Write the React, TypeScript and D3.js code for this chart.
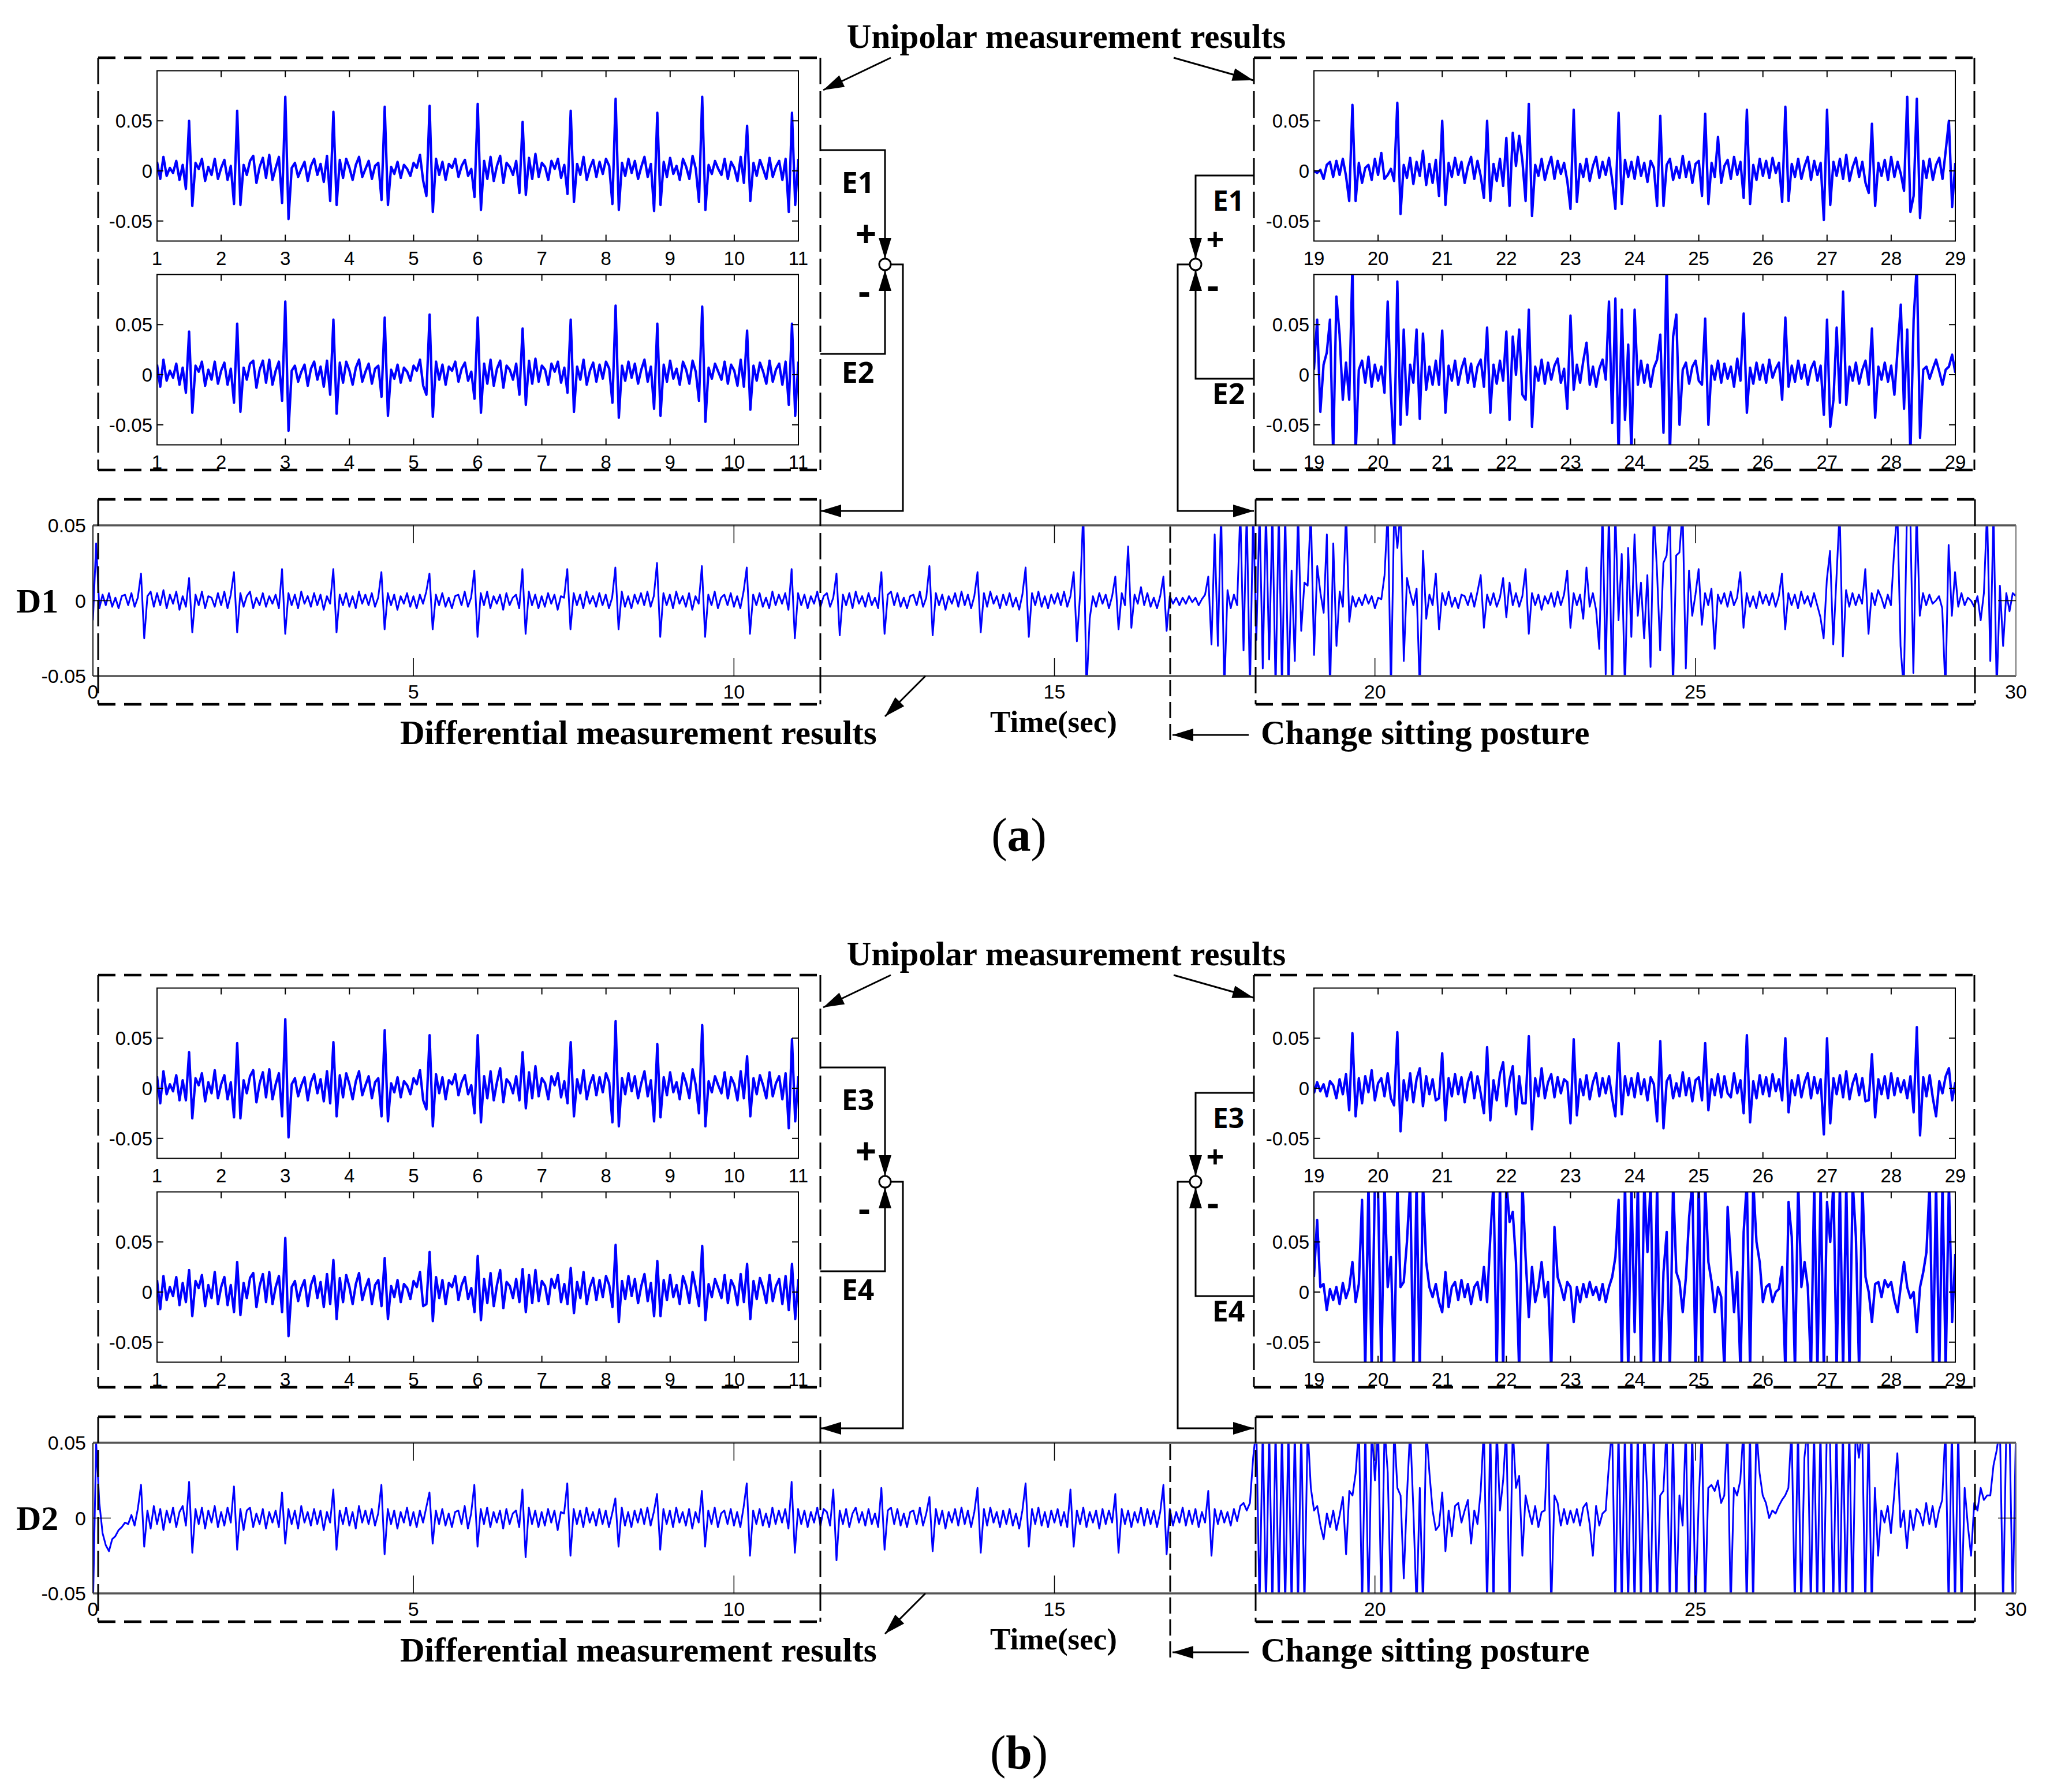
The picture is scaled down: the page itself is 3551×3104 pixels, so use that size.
import React from "react";
import * as d3 from "d3";

// All signal values are in units of 0.001, one sample every 0.05 s

// (a) unipolar, left window 1..11 s
const aLeftE1 = [
  9,-8,14,-5,3,-2,10,-9,6,-18, 50,-35,8,2,12,-10,4,-4,12,-8,
  3,11,-9,5,-33, 60,-34,6,-4,10, 15,-12,4,13,-7, 16,-9,3,14,-32,
  74,-48,3,8,-6, 2,9,-10,5,12, -4,7,-11,15,-30, 59,-34,11,-7,12,
  3,-9,6,14,-6, 2,10,-8,5,8, -29,64,-34,4,-3, 9,-7,6,2,-5,
  8,3,16,-10,-25, 65,-41,12,-4,9, -9,7,3,12,-6, 5,11,-5,2,-26,
  67,-39,10,-8,14, -10,5,15,-12,8, 4,-4,10,-22,49, -24,13,-8,17,-6,
  8,4,-9,10,2, 12,-7,6,-23,60, -31,7,-4,14,-9, 3,11,-6,9,-3,
  12,5,-33,72,-39, 8,-5,12,-2,10, -8,4,14,-6,7, -40,58,-34,9,-6,
  13,-3,5,-9,12, 4,-8,15,2,-31, 74,-39,6,-3,10, 2,-4,12,-8,9,
  3,-10,14,-12,45, -30,8,-5,11,2, -8,13,-6,4,10, -9,12,-41,58,-34,
  12,
];
const aLeftE2 = [
  10,-12,15,-6,4,-3,11,-10,7,-18, 43,-38,9,3,13,-11,5,-5,13,-9,
  4,12,-10,6,-28, 51,-37,7,-5,11, 14,-13,5,14,-8, 15,-10,4,13,-26,
  73,-56,4,9,-7, 3,10,-11,6,13, -5,8,-12,14,-20, 55,-39,12,-8,13,
  4,-10,7,15,-7, 3,11,-9,6,9, -22,57,-41,5,-4, 10,-8,7,3,-6,
  9,4,15,-11,-20, 60,-42,13,-5,10, -10,8,4,13,-7, 6,12,-6,3,-24,
  57,-38,11,-9,15, -11,6,14,-13,9, 5,-5,11,-20,46, -30,14,-9,16,-7,
  9,5,-10,11,3, 13,-8,7,-18,55, -37,8,-5,15,-10, 4,12,-7,10,-4,
  13,6,-28,69,-43, 9,-6,13,-3,11, -9,5,15,-7,8, -34,51,-41,10,-7,
  14,-4,6,-10,13, 5,-9,14,3,-26, 68,-47,7,-4,11, 3,-5,13,-9,10,
  4,-11,15,-12,44, -35,9,-6,12,3, -9,14,-7,5,11, -10,13,-30,51,-41,
  13,
];
// (a) unipolar, right window 19..29 s
const aRightE1 = [
  0,-2,1,-8,6,9,-6,10,-4,12, -5,-30,66,-30,8,-12,3,6,-9,12,
  -4,18,-8,-4,2,-10,68,-43,6,-7, 13,-13,9,-5,20,-14,7,-12,11,-25,
  50,-34,8,-6,13,-4,9,-12,4,14, -8,10,-5,-27,50,-30,7,-10,12,-15,
  33,-35,38,5,35,10,-30,67,-45,6, -5,12,-9,4,14,-8,10,-3,8,-10,
  -38,61,-31,7,-6,12,-10,5,14,-7, 9,-4,13,-9,-38,58,-33,11,-6,9,
  -8,14,-5,8,-11,10,3,-35,55,-35, 6,12,-9,4,-7,15,-6,9,-12,7,
  10,-25,57,-33,8,-6,34,-12,5,11, -8,14,-4,9,-27,61,-33,6,-9,12,
  -5,10,-7,13,-2,8,-31,64,-30,7, -6,12,-8,5,14,-9,10,-4,8,-49,
  61,-34,9,-5,12,-8,16,-10,4,13, -6,9,-12,-22,47,-35,8,-5,11,-9,
  14,-6,9,-3,-20,74,-41,-25,72,-47, 10,-7,12,-9,6,13,-8,20,50,-36,
  8,
];
const aRightE2 = [
  5,55,-37,10,22,55,-80,78,40,-25, 12,-25,110,-80,5,14,-8,18,-12,10,
  -6,8,-18,73,-20,-80,93,-50,45,-40, 10,-8,45,-44,41,-15,8,-10,14,-10,
  44,-38,9,-6,14,-10,6,16,-8,11, -12,8,15,-12,47,-38,10,-9,14,-6,
  43,-45,38,0,45,-20,-25,65,-52,8, -6,15,-9,12,-5,9,16,-8,6,-34,
  59,-15,10,-8,14,32,-10,8,-12,6, 15,-5,73,-48,76,-80,65,-45,30,-80,
  65,-10,14,-8,10,-12,7,15,40,-58, 115,-80,38,60,-50,5,12,-9,8,14,
  -6,-10,56,-50,9,-5,14,-8,11,-4, 8,-12,16,-6,61,-38,7,-9,12,-5,
  10,-8,15,-3,6,12,-25,57,-12,9, -7,14,-4,10,-10,6,13,-6,9,-40,
  55,-52,-25,47,-28,83,-30,8,-6,12, -9,5,14,-10,46,-43,8,-5,12,-7,
  9,-20,25,70,-34,45,-80,55,110,-63, 5,8,-4,6,15,3,-10,5,8,20,
  2,
];
// (b) unipolar, left window 1..11 s
const bLeftE3 = [
  12,-15,17,-6,4,-3,13,-12,8,-12, 36,-30,10,3,15,-13,6,-5,18,-10,
  4,13,-11,6,-29, 45,-30,8,-5,12, 18,-14,5,16,-9, 19,-11,4,15,-28,
  69,-49,4,10,-8, 3,11,-12,6,14, -5,9,-13,17,-15, 46,-28,13,-9,15,
  4,-11,7,17,-7, 3,12,-10,6,10, -28,58,-33,5,-4, 11,-9,7,3,-6,
  10,4,18,-12,-21, 53,-38,14,-5,11, -11,8,4,14,-7, 6,13,-6,3,-25,
  53,-34,12,-10,17, -12,6,20,-14,9, 5,-5,12,-12,36, -20,16,-10,22,-8,
  10,5,-11,12,3, 15,-9,7,-15,46, -28,9,-5,18,-11, 4,13,-7,11,-4,
  15,6,-34,67,-38, 10,-6,15,-3,12, -10,5,17,-8,8, -33,44,-29,11,-7,
  16,-4,6,-11,15, 5,-10,19,3,-25, 63,-38,7,-4,12, 3,-5,16,-10,11,
  4,-12,17,-10,32, -28,10,-6,13,3, -10,16,-8,5,12, -11,15,-40,49,-33,
  12,
];
const bLeftE4 = [
  12,-17,16,-8,5,-4,15,-13,9,-10, 22,-24,11,4,17,-14,7,-6,20,-12,
  5,15,-13,7,-20, 30,-23,9,-6,14, 19,-15,6,18,-10, 20,-12,5,16,-20,
  54,-44,5,11,-9, 4,12,-14,7,16, -6,10,-15,18,-12, 32,-27,14,-10,17,
  5,-12,8,19,-8, 4,13,-12,7,12, -14,34,-27,6,-5, 12,-10,8,4,-7,
  11,5,20,-14,-12, 40,-29,15,-6,12, -12,9,5,16,-8, 7,15,-7,4,-20,
  36,-28,13,-11,19, -14,7,22,-16,10, 6,-6,13,-10,23, -20,17,-11,22,-9,
  11,6,-12,13,4, 17,-10,8,-12,24, -21,10,-6,20,-12, 5,14,-8,12,-5,
  16,7,-15,47,-30, 11,-7,16,-4,13, -11,6,18,-9,9, -24,31,-24,12,-8,
  17,-5,7,-12,16, 6,-11,20,4,-14, 46,-28,8,-5,13, 4,-6,17,-11,12,
  5,-13,18,-10,28, -27,11,-7,14,4, -11,17,-9,6,13, -12,16,-18,28,-27,
  13,
];
// (b) unipolar, right window 19..29 s
const bRightE3 = [
  -5,6,-3,4,-8,7,3,-10,9,-6, 14,-22,55,-28,10,-15,12,-4,18,-12,
  5,10,-8,15,-10,-17,56,-43,8,-12, 15,-14,9,20,-18,12,-6,9,-12,-10,
  35,-32,10,-8,14,-6,11,-14,6,16, -10,12,-5,-25,41,-32,8,-12,14,26,
  -18,8,22,-26,12,-15,-15,52,-41,10, -8,20,-10,6,14,-9,11,-5,9,6,
  -35,49,-27,9,-7,13,-11,6,15,-8, 10,-5,12,-10,-28,45,-26,12,-7,10,
  -9,15,-6,9,-12,11,4,-33,47,-40, 7,13,-10,5,-8,16,-7,10,-13,8,
  11,-12,45,-22,9,-7,14,-9,12,-5, -9,15,-5,8,-25,53,-34,7,-10,13,
  -6,11,-8,14,-3,9,-12,50,-24,8, -7,13,-9,6,15,-10,11,-5,9,-46,
  50,-35,10,-6,13,-9,17,-11,5,14, -7,10,-13,-12,34,-29,9,-6,12,-10,
  15,-7,10,-4,8,-10,12,-24,61,-47, 11,-8,13,-10,-28,7,-5,12,20,-12,
  6,
];
const bRightE4 = [
  15,72,5,8,-18,3,-8,5,-12,9, -6,4,30,-10,8,92,-80,110,-80,110,
  100,-80,110,5,35,-80,110,5,10,50, 110,-80,110,-80,110,30,5,-5,8,-10,
  -20,20,-15,5,10,-8,12,-5,8,-12, 5,10,-8,25,-10,55,110,-80,110,-80,
  110,70,80,30,-80,110,35,-25,25,-10, 5,30,-5,10,-80,65,15,5,-8,10,
  5,-30,5,-10,8,-5,10,-3,5,-8, 8,-10,5,15,35,92,-80,110,-80,110,
  -40,110,-80,110,40,110,-80,110,-80,20, 60,-80,110,20,10,-20,15,75,110,-80,
  110,-80,110,30,10,-20,5,-5,-80,85, 30,-20,20,-80,60,110,-80,110,50,30,
  -10,5,8,-10,0,3,25,-80,90,55, -80,110,5,30,5,-80,110,-80,110,-80,
  90,50,110,-80,110,-80,110,-80,110,55, -80,110,15,0,-30,8,10,-5,12,5,
  10,-8,-20,6,30,5,-6,0,-40,5, 20,40,110,-80,110,-80,110,-80,110,-30,
  38,
];

// differential traces 0..30 s
const d1Values = [
  -13,38,-5,4,-3,5,-4,2,-5,3, 4,-3,5,-4,2,18,-25,3,6,-4,
  5,-3,7,-5,4,-2,6,-6,3,-4, 15,-21,4,-3,6,-5,3,2,-4,5,
  -3,6,-5,4,19,-21,5,-4,3,6, -5,2,-3,5,-4,3,-2,4,-5,21,
  -22,5,-3,4,-5,6,-2,3,-4,5, -3,4,-6,3,-2,21,-21,4,-3,5,
  -4,3,-5,6,-2,4,-3,5,-4,2, 19,-19,5,-3,4,-6,3,-2,5,-4,
  3,-5,4,-2,6,18,-19,4,-3,5, -4,2,-5,3,4,-3,6,-4,2,20,
  -24,5,-3,6,-5,3,-2,4,-6,5, -3,2,4,-5,21,-22,6,-3,4,-5,
  3,-4,5,-2,4,-6,3,2,21,-19, 5,-3,4,-5,6,-2,3,-4,5,-3,
  4,-5,2,22,-19,6,-4,3,-5,4, -2,5,-3,6,-4,3,25,-24,5,-3,
  4,-5,6,-2,3,-4,5,-6,3,-2, 23,-24,4,-3,6,-5,2,4,-3,5,
  -4,3,-5,6,22,-22,4,-3,5,-4, 2,-5,6,-3,4,-2,5,-6,21,-25,
  5,-3,4,-5,3,-2,6,-4,3,5, -4,2,18,-23,4,-3,5,-5,6,-2,
  3,-4,5,-3,2,-5,19,-22,4,6, -3,5,-4,2,-5,3,4,-3,6,-4,
  2,23,-23,5,-3,4,-6,3,-2,5, -4,6,-3,4,-5,3,19,-21,5,-4,
  6,-2,3,-5,4,-3,5,-4,2,-6, 4,22,-24,5,-3,6,-4,3,-5,4,
  -2,5,-3,6,-4,3,19,-27,4,60, -60,-12,3,-4,5,-2,4,-5,3,16,
  -19,5,-3,36,-18,4,-2,9,-3,5, -4,2,-5,3,16,-20,3,-2,2,-3,
  2,-2,3,-1,2,-3,1,4,16,-29, 44,-30,60,-60,7,-5,4,-3,60,-33,
  60,-60,60,-26,60,-45,60,-39,60,-60, 60,-60,60,-60,20,-40,60,-20,12,10,
  60,-36,23,5,-8,44,-60,38,-30,6, -4,60,-14,3,-4,2,-3,4,-2,3,
  -5,2,1,17,60,-60,60,35,60,-40, 15,5,-3,8,-60,33,-12,4,-3,18,
  -19,5,-3,6,-4,2,-5,4,3,-3, 5,-4,6,17,-18,4,-3,5,-4,2,
  15,-11,12,-3,5,-4,3,21,-22,5, -3,4,-6,3,-2,5,-4,6,-3,4,
  20,-18,5,-3,4,-12,22,-4,5,-6, -32,60,-49,60,-60,60,-13,31,-60,35,
  -24,44,-10,12,-25,17,-44,60,20,-33, 25,30,60,-60,30,32,60,-45,20,-10,
  4,21,-16,5,-3,8,-32,4,-2,5, -4,6,-3,2,19,-18,5,-4,3,-5,
  6,-2,4,-3,5,-4,3,18,-19,5, -3,4,-5,6,-2,3,-4,5,-3,-11,
  -25,14,33,-29,15,60,-37,7,-4,5, -3,4,-2,21,-22,5,-3,7,2,-5,
  4,-3,33,60,-30,-60,60,60,-48,60, -10,5,-3,4,-2,0,3,-5,-60,37,
  -10,19,-4,5,-3,2,0,-4,3,-13, 5,60,-40,60,-60,10,-30,5,-7,5,
  3,
];
const d2Values = [
  -60,50,10,-10,-18,-22,-14,-12,-8,-6, -3,-4,2,-5,6,22,-19,5,-7,8,
  -4,6,-8,5,-3,7,-6,4,8,-5, 24,-23,6,-4,7,-7,5,-3,8,-6,
  4,-5,7,-3,21,-21,6,-8,5,7, -6,3,-4,6,-7,4,-3,5,-6,17,
  -17,6,-4,5,-7,8,-3,4,-5,6, -4,5,-8,4,-3,19,-21,5,-4,7,
  -5,4,-7,8,-3,5,-4,6,-5,3, 22,-24,6,-4,5,-7,4,-3,7,-5,
  4,-6,5,-3,7,17,-17,5,-4,6, -5,3,-6,4,5,-4,8,-7,3,22,
  -19,6,-4,7,-6,4,-3,5,-7,6, -4,3,5,-6,19,-26,7,-4,5,-6,
  4,-5,6,-3,5,-8,4,3,23,-25, 6,-4,5,-6,7,-3,4,-5,6,-4,
  5,-6,3,13,-19,7,-5,4,-6,5, -3,6,-4,7,-5,4,16,-21,6,-4,
  5,-6,7,-3,4,-5,6,-7,4,-3, 18,-19,5,-4,7,-6,3,5,-4,6,
  -5,4,-6,7,23,-25,5,-4,6,-5, 3,-6,7,-4,5,-3,6,-7,24,-23,
  6,-4,5,-6,4,-3,7,-5,6,4, -5,19,-28,5,-4,6,-6,3,7,-3,
  4,-5,6,-4,3,-6,20,-21,5,7, -4,6,-5,3,-6,4,5,-4,7,-5,
  3,14,-22,6,-4,5,-7,4,-3,6, -5,7,-4,5,-6,4,20,-23,6,-5,
  7,-3,4,-6,5,-4,6,-5,3,-7, 5,23,-19,6,-4,7,-5,4,-6,5,
  -3,6,-5,4,-6,19,-19,5,-4,7, -6,4,-3,5,-7,6,-4,5,-3,16,
  -23,6,-4,5,-6,4,-3,7,-5,6, -4,5,-6,4,22,-24,6,-5,4,-3,
  7,-5,5,-4,6,-6,4,-3,18,-25, 6,-4,5,-3,4,-5,6,-2,8,10,
  5,10,40,60,-60,60,-60,60,-60,60, -60,60,-60,60,-60,60,-60,60,-60,60,
  20,5,8,-5,-14,3,-6,5,-8,2, 14,-24,18,15,30,60,-60,60,-60,60,
  25,60,-60,60,30,-60,60,20,15,-40, 15,60,5,-60,20,-60,60,30,5,-8,
  -5,17,-22,5,-12,8,10,-3,5,12, -17,5,-4,18,60,-60,60,-60,60,5,
  25,60,-60,60,20,28,-25,15,5,-4, 8,-6,4,5,60,-60,15,10,-5,6,
  -4,5,-3,6,-5,7,10,-4,-25,8, -5,3,5,35,60,-60,60,-60,60,-60,
  60,-60,60,-60,60,15,-60,60,-60,15, 18,60,-60,60,-60,15,-5,60,-60,60,
  -60,10,60,-60,20,22,18,25,10,15, 60,-60,20,15,25,60,-60,60,-60,60,
  30,15,10,0,5,3,8,12,15,20, 60,-60,60,-60,40,60,-60,60,-60,60,
  -60,60,50,-60,60,-60,60,-60,60,-60, 60,40,60,-60,60,-60,20,-25,5,-3,
  8,-10,15,43,-6,5,-20,5,-8,6, 3,-5,10,-4,8,-6,5,12,60,-60,
  60,-60,60,-60,20,-5,-25,10,5,20, 12,15,15,35,45,60,-60,60,60,-60,
  60,
];

const leftWindow = [1, 11];
const rightWindow = [19, 29];
const insetXTicksLeft = d3.range(1, 12);
const insetXTicksRight = d3.range(19, 30);
const insetYTicks = [-0.05, 0, 0.05];
const insetYDomain = [-0.07, 0.1];
const stripXDomain = [0, 30];
const stripXTicks = [0, 5, 10, 15, 20, 25, 30];
const stripYTicks = [-0.05, 0, 0.05];
const stripYDomain = [-0.05, 0.05];

const SERIF = '"Liberation Serif", "Times New Roman", serif';
const SANS = '"Liberation Sans", Arial, sans-serif';
const BOLD_SANS = '"Open Sans", "Liberation Sans", sans-serif';
const BLUE = "#0000ff";

const fmt = (v: number) => (v === 0 ? "0" : v.toFixed(2));

function Trace({ id, left, top, width, height, xDomain, yDomain, values, lw }: any) {
  const x = d3.scaleLinear().domain(xDomain).range([left, left + width]);
  const y = d3.scaleLinear().domain(yDomain).range([top + height, top]);
  const n = values.length;
  const step = (xDomain[1] - xDomain[0]) / (n - 1);
  const line = d3
    .line<number>()
    .x((_, i) => x(xDomain[0] + i * step))
    .y((v) => y(v / 1000));
  return (
    <g>
      <clipPath id={id}>
        <rect x={left} y={top} width={width} height={height} />
      </clipPath>
      <path d={line(values) || ""} fill="none" stroke={BLUE} strokeWidth={lw} strokeLinejoin="round" clipPath={`url(#${id})`} />
    </g>
  );
}

function Inset({ id, left, top, xDomain, xTicks, values }: any) {
  const width = 1111;
  const height = 295;
  const x = d3.scaleLinear().domain(xDomain).range([left, left + width]);
  const y = d3.scaleLinear().domain(insetYDomain).range([top + height, top]);
  const tl = 11;
  return (
    <g>
      <rect x={left} y={top} width={width} height={height} fill="#fff" />
      <Trace id={id} left={left} top={top} width={width} height={height} xDomain={xDomain} yDomain={insetYDomain} values={values} lw={4.2} />
      <rect x={left} y={top} width={width} height={height} fill="none" stroke="#000" strokeWidth={2} />
      <g stroke="#000" strokeWidth={2}>
        {xTicks.map((t: number) => (
          <g key={t}>
            <line x1={x(t)} x2={x(t)} y1={top + height} y2={top + height - tl} />
            <line x1={x(t)} x2={x(t)} y1={top} y2={top + tl} />
          </g>
        ))}
        {insetYTicks.map((t) => (
          <g key={t}>
            <line x1={left} x2={left + tl} y1={y(t)} y2={y(t)} />
            <line x1={left + width} x2={left + width - tl} y1={y(t)} y2={y(t)} />
          </g>
        ))}
      </g>
      <g fontFamily={SANS} fontSize={33} fill="#000">
        {xTicks.map((t: number) => (
          <text key={t} x={x(t)} y={top + height + 41} textAnchor="middle">{t}</text>
        ))}
        {insetYTicks.map((t) => (
          <text key={t} x={left - 8} y={y(t) + 12} textAnchor="end">{fmt(t)}</text>
        ))}
      </g>
    </g>
  );
}

function Strip({ id, top, values, label }: any) {
  const left = 161;
  const width = 3331;
  const height = 261;
  const x = d3.scaleLinear().domain(stripXDomain).range([left, left + width]);
  const y = d3.scaleLinear().domain(stripYDomain).range([top + height, top]);
  const tl = 31;
  return (
    <g>
      <Trace id={id} left={left} top={top} width={width} height={height} xDomain={stripXDomain} yDomain={stripYDomain} values={values} lw={3} />
      <line x1={left} x2={left + width} y1={top} y2={top} stroke="#555" strokeWidth={3.5} />
      <line x1={left} x2={left + width} y1={top + height} y2={top + height} stroke="#555" strokeWidth={3.5} />
      <line x1={left} x2={left} y1={top} y2={top + height} stroke="#222" strokeWidth={2} />
      <line x1={left + width} x2={left + width} y1={top} y2={top + height} stroke="#777" strokeWidth={2} />
      <g stroke="#000" strokeWidth={1.5}>
        {stripXTicks.slice(1, -1).map((t) => (
          <g key={t}>
            <line x1={x(t)} x2={x(t)} y1={top + height} y2={top + height - tl} />
            <line x1={x(t)} x2={x(t)} y1={top} y2={top + tl} />
          </g>
        ))}
        <line x1={left} x2={left + tl} y1={y(0)} y2={y(0)} />
        <line x1={left + width} x2={left + width - tl} y1={y(0)} y2={y(0)} />
      </g>
      <g fontFamily={SANS} fontSize={34} fill="#000">
        {stripXTicks.map((t) => (
          <text key={t} x={x(t)} y={top + height + 39} textAnchor="middle">{t}</text>
        ))}
        {stripYTicks.map((t) => (
          <text key={t} x={left - 12} y={y(t) + 12} textAnchor="end">{fmt(t)}</text>
        ))}
      </g>
      <text x={28} y={y(0) + 20} fontFamily={SERIF} fontWeight="bold" fontSize={60}>{label}</text>
    </g>
  );
}

function head(tx: number, ty: number, fx: number, fy: number, len = 36, hw = 11) {
  const a = Math.atan2(ty - fy, tx - fx);
  const bx = tx - len * Math.cos(a);
  const by = ty - len * Math.sin(a);
  const px = -Math.sin(a) * hw;
  const py = Math.cos(a) * hw;
  return `${tx},${ty} ${bx + px},${by + py} ${bx - px},${by - py}`;
}

function Arrow({ pts }: { pts: number[][] }) {
  const d = "M" + pts.map((p) => p.join(",")).join("L");
  const n = pts.length;
  const [tx, ty] = pts[n - 1];
  const [fx, fy] = pts[n - 2];
  return (
    <g>
      <path d={d} fill="none" stroke="#000" strokeWidth={3} />
      <polygon points={head(tx, ty, fx, fy)} fill="#000" />
    </g>
  );
}

function DashedBox({ x1, y1, x2, y2 }: any) {
  return (
    <g stroke="#000" fill="none">
      <line x1={x1} y1={y1} x2={x2} y2={y1} strokeWidth={4.5} strokeDasharray="30 15" />
      <line x1={x1} y1={y2} x2={x2} y2={y2} strokeWidth={4.5} strokeDasharray="30 15" />
      <line x1={x1} y1={y1} x2={x1} y2={y2} strokeWidth={3} strokeDasharray="46 12" />
      <line x1={x2} y1={y1} x2={x2} y2={y2} strokeWidth={3} strokeDasharray="46 12" />
    </g>
  );
}

function Panel({ oy, tag, e, dLabel, data }: any) {
  return (
    <g transform={`translate(0,${oy})`}>
      <text x={1847} y={83} textAnchor="middle" fontFamily={SERIF} fontWeight="bold" fontSize={59}>Unipolar measurement results</text>
      <Arrow pts={[[1543, 100], [1426, 156]]} />
      <Arrow pts={[[2033, 100], [2171, 139]]} />

      <DashedBox x1={170} y1={100} x2={1421} y2={814} />
      <DashedBox x1={2172} y1={100} x2={3420} y2={814} />

      <Inset id={`${tag}-l1`} left={272} top={122.5} xDomain={leftWindow} xTicks={insetXTicksLeft} values={data[0]} />
      <Inset id={`${tag}-l2`} left={272} top={475.5} xDomain={leftWindow} xTicks={insetXTicksLeft} values={data[1]} />
      <Inset id={`${tag}-r1`} left={2276} top={122.5} xDomain={rightWindow} xTicks={insetXTicksRight} values={data[2]} />
      <Inset id={`${tag}-r2`} left={2276} top={475.5} xDomain={rightWindow} xTicks={insetXTicksRight} values={data[3]} />

      {/* left summing junction */}
      <Arrow pts={[[1421, 260], [1533, 260], [1533, 448]]} />
      <Arrow pts={[[1421, 613], [1533, 613], [1533, 468]]} />
      <Arrow pts={[[1543, 458], [1564, 458], [1564, 885], [1421, 885]]} />
      <circle cx={1533} cy={458} r={10} fill="#fff" stroke="#000" strokeWidth={3} />
      {/* right summing junction */}
      <Arrow pts={[[2172, 304], [2071, 304], [2071, 448]]} />
      <Arrow pts={[[2172, 656], [2071, 656], [2071, 468]]} />
      <Arrow pts={[[2061, 458], [2040, 458], [2040, 885], [2172, 885]]} />
      <circle cx={2071} cy={458} r={10} fill="#fff" stroke="#000" strokeWidth={3} />

      <g fontFamily={BOLD_SANS} fontWeight="bold" fill="#000">
        <text x={1486} y={334} fontSize={50} textAnchor="middle">{e[0]}</text>
        <text x={1486} y={663} fontSize={50} textAnchor="middle">{e[1]}</text>
        <text x={1500} y={428} fontSize={64} textAnchor="middle">+</text>
        <text x={1497} y={527} fontSize={64} textAnchor="middle">-</text>
        <text x={2128} y={365} fontSize={48} textAnchor="middle">{e[0]}</text>
        <text x={2128} y={700} fontSize={50} textAnchor="middle">{e[1]}</text>
        <text x={2105} y={434} fontSize={54} textAnchor="middle">+</text>
        <text x={2101} y={517} fontSize={64} textAnchor="middle">-</text>
      </g>

      <Strip id={`${tag}-d`} top={910} values={data[4]} label={dLabel} />
      <DashedBox x1={170} y1={865} x2={1421} y2={1220} />
      <DashedBox x1={2175} y1={865} x2={3421} y2={1220} />
      <line x1={2027} y1={912} x2={2027} y2={1292} stroke="#000" strokeWidth={3} strokeDasharray="28 10" />

      <g fontFamily={SERIF} fontWeight="bold" fill="#000">
        <text x={693} y={1289} fontSize={59}>Differential measurement results</text>
        <text x={1825} y={1268} fontSize={53} textAnchor="middle">Time(sec)</text>
        <text x={2184} y={1289} fontSize={59}>Change sitting posture</text>
      </g>
      <Arrow pts={[[1603, 1171], [1533, 1241]]} />
      <Arrow pts={[[2163, 1273], [2031, 1273]]} />

      <text x={1765} y={1474} textAnchor="middle" fontFamily={SERIF} fontSize={82}>
        (<tspan fontWeight="bold">{tag}</tspan>)
      </text>
    </g>
  );
}

export default function App() {
  return (
    <div style={{ position: "absolute", left: 0, top: 0 }}>
      <svg width={3551} height={3104} viewBox="0 0 3551 3104" style={{ display: "block", background: "#fff" }}>
        <rect width={3551} height={3104} fill="#fff" />
        <Panel oy={0} tag="a" e={["E1", "E2"]} dLabel="D1" data={[aLeftE1, aLeftE2, aRightE1, aRightE2, d1Values]} />
        <Panel oy={1589} tag="b" e={["E3", "E4"]} dLabel="D2" data={[bLeftE3, bLeftE4, bRightE3, bRightE4, d2Values]} />
      </svg>
    </div>
  );
}
